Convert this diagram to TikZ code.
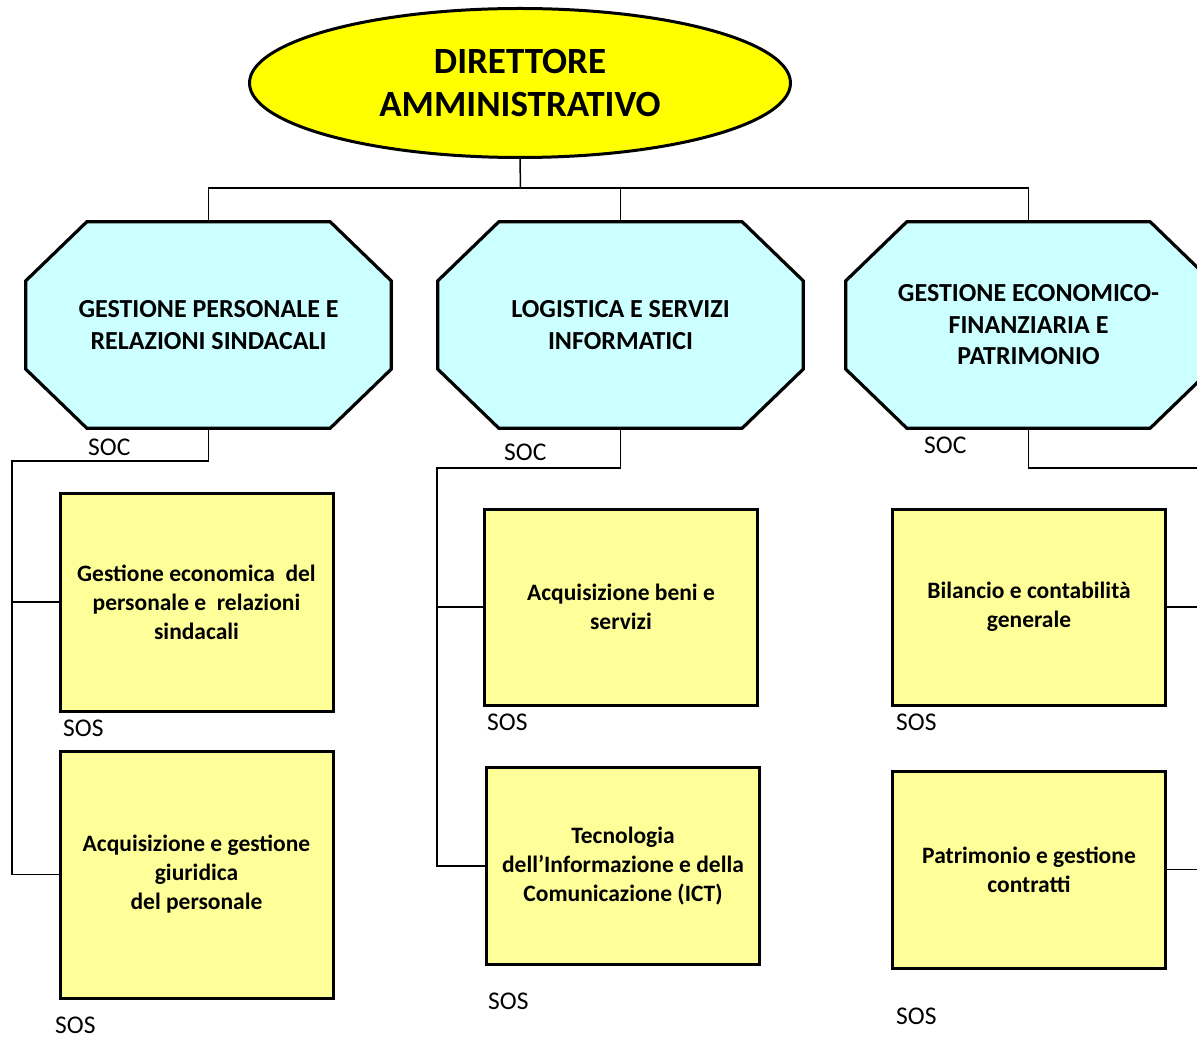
\documentclass[tikz,border=0pt]{standalone}
\usepackage{fontspec}
\setmainfont{Carlito}
\usetikzlibrary{shapes.geometric,backgrounds,calc}
\definecolor{diryellow}{HTML}{FFFF00}
\definecolor{octcyan}{HTML}{CCFFFF}
\definecolor{boxyellow}{HTML}{FFFF99}
\tikzset{
  dirnode/.style={ellipse,draw=black,line width=3pt,fill=diryellow,minimum width=541pt,minimum height=149pt,inner sep=0pt,align=center,font=\fontsize{37}{43}\selectfont\bfseries},
  octnode/.style={rectangle,minimum width=365pt,minimum height=206pt,inner sep=0pt,align=center,font=\fontsize{26}{31.5}\selectfont\bfseries},
  octline/.style={draw=black,line width=3.2pt,fill=octcyan,line join=miter},
  unitbox/.style={rectangle,draw=black,line width=3pt,fill=boxyellow,minimum width=273pt,inner sep=0pt,align=center,font=\fontsize{23.5}{29}\selectfont\bfseries},
  lbl/.style={anchor=west,inner sep=0pt,font=\fontsize{25.5}{28}\selectfont},
  conn/.style={draw=black,line width=1.5pt}
}
\newcommand\drawoctagon[1]{%
  \begin{pgfonlayer}{background}
  \path[octline] ([xshift=61pt]#1.north west) -- ([xshift=-61pt]#1.north east) -- ([yshift=-59pt]#1.north east) -- ([yshift=59pt]#1.south east) -- ([xshift=-61pt]#1.south east) -- ([xshift=61pt]#1.south west) -- ([yshift=59pt]#1.south west) -- ([yshift=-59pt]#1.north west) -- cycle;
  \end{pgfonlayer}}
\begin{document}
\begin{tikzpicture}[x=1pt,y=-1pt]
\useasboundingbox (0,0) rectangle (1197,1040);
\clip (0,0) rectangle (1197,1040);

% director
\node[dirnode] (dir) at (520,83) {DIRETTORE\\AMMINISTRATIVO};

% octagons
\node[octnode] (g1) at (208.5,325) {GESTIONE PERSONALE E\\RELAZIONI SINDACALI};
\node[octnode] (g2) at (620.5,325) {LOGISTICA E SERVIZI\\INFORMATICI};
\node[octnode] (g3) at (1028.5,325) {GESTIONE ECONOMICO-\\FINANZIARIA E\\PATRIMONIO};
\drawoctagon{g1}
\drawoctagon{g2}
\drawoctagon{g3}

% boxes
\node[unitbox,minimum height=218pt] (b1) at (196.5,602) {Gestione economica\ \ del\\personale e\ \ relazioni\\sindacali};
\node[unitbox,minimum height=247pt] (b2) at (196.5,874.5) {Acquisizione e gestione\\giuridica\\del personale};
\node[unitbox,minimum height=196pt] (b3) at (621,607) {Acquisizione beni e\\servizi};
\node[unitbox,minimum height=197pt] (b4) at (623,866) {Tecnologia\\dell’Informazione e della\\Comunicazione (ICT)};
\node[unitbox,minimum height=196pt] (b5) at (1029,607) {Bilancio e contabilità\\generale};
\node[unitbox,minimum height=197pt] (b6) at (1029,869.5) {Patrimonio e gestione\\contratti};

% labels
\node[lbl] (soc1) at (88,447) {SOC};
\node[lbl] (soc2) at (504,452) {SOC};
\node[lbl] (soc3) at (924,445) {SOC};
\node[lbl] (sos1) at (63,728) {SOS};
\node[lbl] (sos2) at (55,1025) {SOS};
\node[lbl] (sos3) at (487,722) {SOS};
\node[lbl] (sos4) at (488,1001) {SOS};
\node[lbl] (sos5) at (896,722) {SOS};
\node[lbl] (sos6) at (896,1016) {SOS};

% connectors
\coordinate (j) at (520.5,188);
\draw[conn] (dir.south) -- (j);
\draw[conn] (g1.north) |- (j) -| (g3.north);
\draw[conn] (j) -| (g2.north);

\coordinate (l1) at (12,461);
\draw[conn] (g1.south) |- (l1) -- (b2.west -| l1) -- (b2.west);
\draw[conn] (b1.west) -- (b1.west -| l1);

\coordinate (m1) at (437,468);
\draw[conn] (g2.south) |- (m1) -- (b4.west -| m1) -- (b4.west);
\draw[conn] (b3.west) -- (b3.west -| m1);

\coordinate (r1) at (1230,468);
\draw[conn] (g3.south) |- (r1) -- (b6.east -| r1) -- (b6.east);
\draw[conn] (b5.east) -- (b5.east -| r1);
\end{tikzpicture}
\end{document}
